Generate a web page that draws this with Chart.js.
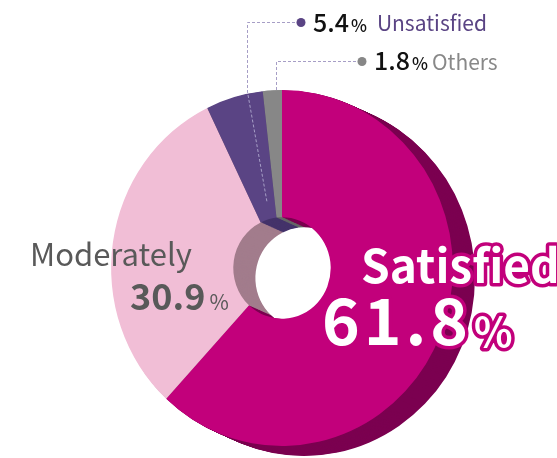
<!DOCTYPE html>
<html>
<head>
<meta charset="utf-8">
<script src="https://cdn.jsdelivr.net/npm/chart.js@4"></script>
<style>
  html, body { margin: 0; padding: 0; background: #fff; }
  canvas { display: block; }
</style>
</head>
<body>
<canvas id="satisfactionChart" width="557" height="458"></canvas>
<script>
const categories = ['Satisfied', 'Moderately', 'Unsatisfied', 'Others'];
const shares = [61.8, 30.9, 5.4, 1.8];
const topColors = ['#c2007b', '#f1bed6', '#5a4484', '#878787'];
const sideColors = ['#7b0050', '#a27c8c', '#44336a', '#666666'];

const FONT = '"Noto Sans CJK KR", "Noto Sans", sans-serif';
const DEPTH = { x: 23, y: 10 };
const SQUASH = 0.96; // top face is a bit narrower than tall

// squash the doughnut horizontally around its centre
const squash = {
  id: 'squash',
  beforeDatasetsDraw(chart) {
    const arc = chart.getDatasetMeta(0).data[0];
    const ctx = chart.ctx;
    ctx.save();
    ctx.translate(arc.x, arc.y);
    ctx.scale(SQUASH, 1);
    ctx.translate(-arc.x, -arc.y);
  },
  afterDatasetsDraw(chart) {
    chart.ctx.restore();
  }
};

// extruded side of the ring, drawn as stacked offset copies under the top face
const extrude = {
  id: 'extrude',
  beforeDatasetsDraw(chart) {
    const ctx = chart.ctx;
    const arcs = chart.getDatasetMeta(0).data;
    const steps = 24;
    for (let s = steps; s >= 1; s--) {
      const ox = DEPTH.x * s / steps;
      const oy = DEPTH.y * s / steps;
      arcs.forEach((a, i) => {
        const p = a.getProps(['x', 'y', 'startAngle', 'endAngle', 'innerRadius', 'outerRadius'], true);
        ctx.beginPath();
        ctx.arc(p.x + ox, p.y + oy, p.outerRadius, p.startAngle, p.endAngle);
        ctx.arc(p.x + ox, p.y + oy, p.innerRadius, p.endAngle, p.startAngle, true);
        ctx.closePath();
        ctx.fillStyle = sideColors[i];
        ctx.fill();
      });
    }
  }
};

function valueText(ctx, num, pct, x, y, numFont, pctFont, gap) {
  ctx.font = numFont;
  ctx.fillText(num, x, y);
  const w = ctx.measureText(num).width;
  ctx.font = pctFont;
  ctx.fillText('%', x + w + gap, y);
  return x + w + gap + ctx.measureText('%').width;
}

const labels = {
  id: 'labels',
  afterDraw(chart) {
    const ctx = chart.ctx;
    ctx.save();
    ctx.textBaseline = 'alphabetic';
    ctx.textAlign = 'left';

    // leader lines
    ctx.strokeStyle = '#a69ec6';
    ctx.lineWidth = 1;
    ctx.setLineDash([3, 2]);
    ctx.beginPath();
    ctx.moveTo(300, 22.5); ctx.lineTo(247.5, 22.5); ctx.lineTo(247.5, 92); ctx.lineTo(267, 202);
    ctx.moveTo(361, 61.5); ctx.lineTo(276.5, 61.5); ctx.lineTo(276.5, 90);
    ctx.stroke();
    ctx.setLineDash([]);
    ctx.fillStyle = topColors[2];
    ctx.beginPath(); ctx.arc(301, 22.5, 4.5, 0, Math.PI * 2); ctx.fill();
    ctx.fillStyle = topColors[3];
    ctx.beginPath(); ctx.arc(362, 61.5, 4.5, 0, Math.PI * 2); ctx.fill();

    // small labels at the top
    ctx.fillStyle = '#111';
    let end = valueText(ctx, shares[2].toFixed(1), '%', 313, 32, '500 25px ' + FONT, '500 17px ' + FONT, 2);
    ctx.fillStyle = topColors[2];
    ctx.font = '400 21px ' + FONT;
    ctx.fillText(categories[2], end + 10, 31);

    ctx.fillStyle = '#111';
    end = valueText(ctx, shares[3].toFixed(1), '%', 374, 70, '500 25px ' + FONT, '500 17px ' + FONT, 2);
    ctx.fillStyle = '#888';
    ctx.font = '400 21px ' + FONT;
    ctx.fillText(categories[3], end + 4, 70);

    // Moderately
    ctx.fillStyle = '#595959';
    ctx.font = '400 31px ' + FONT;
    ctx.fillText(categories[1], 30, 266);
    valueText(ctx, shares[1].toFixed(1), '%', 130, 310, '700 36px ' + FONT, '400 21px ' + FONT, 4);

    // Satisfied, white text with magenta outline
    ctx.lineJoin = 'round';
    ctx.strokeStyle = topColors[0];
    ctx.lineWidth = 7;
    ctx.fillStyle = '#fff';
    ctx.font = '700 46px ' + FONT;
    ctx.strokeText(categories[0], 361, 283);
    ctx.fillText(categories[0], 361, 283);
    ctx.font = '700 64px ' + FONT;
    ctx.letterSpacing = '4px';
    const num = shares[0].toFixed(1);
    ctx.strokeText(num, 322, 345);
    ctx.fillText(num, 322, 345);
    const w = ctx.measureText(num).width;
    ctx.letterSpacing = '0px';
    ctx.font = '700 40px ' + FONT;
    ctx.strokeText('%', 322 + w + 2, 347);
    ctx.fillText('%', 322 + w + 2, 347);
    ctx.restore();
  }
};

new Chart(document.getElementById('satisfactionChart'), {
  type: 'doughnut',
  data: {
    labels: categories,
    datasets: [{
      data: shares,
      backgroundColor: topColors,
      borderWidth: 0,
      hoverOffset: 0
    }]
  },
  options: {
    responsive: false,
    animation: false,
    cutout: '28.5%',
    layout: {
      padding: { left: 104, right: 97, top: 90, bottom: 12 }
    },
    plugins: {
      legend: { display: false },
      tooltip: { enabled: false }
    },
    events: []
  },
  plugins: [squash, extrude, labels]
});
</script>
</body>
</html>
